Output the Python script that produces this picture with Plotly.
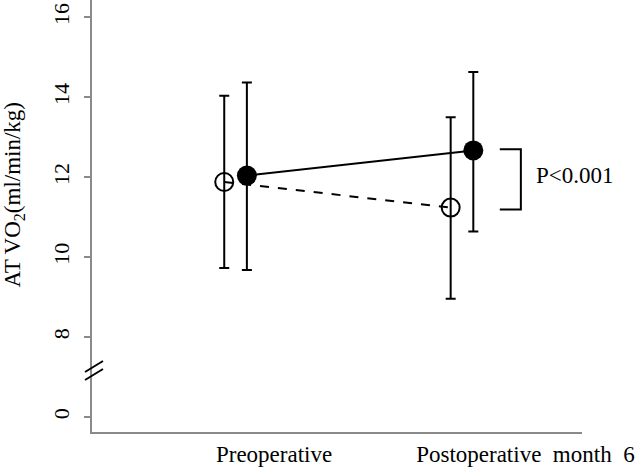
import plotly.graph_objects as go

# values
phases = ["Preoperative", "Postoperative\u00a0 month\u00a0 6"]
phase_x = [1, 2]
label_x = [1.17, 2.28]

filled_mean = [12.04, 12.67]
filled_upper = [14.37, 14.63]
filled_lower = [9.68, 10.64]

open_mean = [11.88, 11.24]
open_upper = [14.04, 13.50]
open_lower = [9.73, 8.96]

ytick_labels = [0, 8, 10, 12, 14, 16]
p_text = "P<0.001"

FONT = "Liberation Serif"
AXIS_GREY = "#8a8a8a"
DODGE = 0.05
BREAK_AT = 7.25


def to_display(v):
    # broken axis: 0 sits two units below 8
    return v if v >= 8 else v + 6


def err(mean, upper, lower):
    return dict(
        type="data",
        symmetric=False,
        array=[u - m for u, m in zip(upper, mean)],
        arrayminus=[m - l for m, l in zip(mean, lower)],
        color="black",
        thickness=2,
        width=5,
    )


fig = go.Figure()

fig.add_trace(
    go.Scatter(
        x=[p - DODGE for p in phase_x],
        y=open_mean,
        mode="lines+markers",
        line=dict(color="black", width=2, dash="dash"),
        marker=dict(symbol="circle-open", size=18, color="black", line=dict(width=2)),
        error_y=err(open_mean, open_upper, open_lower),
        showlegend=False,
    )
)

fig.add_trace(
    go.Scatter(
        x=[p + DODGE for p in phase_x],
        y=filled_mean,
        mode="lines+markers",
        line=dict(color="black", width=2),
        marker=dict(symbol="circle", size=20, color="black"),
        error_y=err(filled_mean, filled_upper, filled_lower),
        showlegend=False,
    )
)

# significance bracket next to the postoperative points
bx0 = phase_x[1] + 0.167
bx1 = phase_x[1] + 0.26
by_top = filled_mean[1] + 0.03
by_bot = open_mean[1] - 0.05
fig.add_shape(
    type="path",
    path=f"M {bx0} {by_top} L {bx1} {by_top} L {bx1} {by_bot} L {bx0} {by_bot}",
    line=dict(color="black", width=2),
)
fig.add_annotation(
    x=bx1 + 0.06,
    y=(by_top + by_bot) / 2 + 0.1,
    text=p_text,
    showarrow=False,
    xanchor="left",
    font=dict(family=FONT, size=23, color="black"),
)

# axis break marks
for dy in (0, -8):
    fig.add_shape(
        type="line",
        xref="paper",
        yref="y",
        xsizemode="pixel",
        ysizemode="pixel",
        xanchor=0,
        yanchor=BREAK_AT,
        x0=-7,
        x1=11,
        y0=dy - 5,
        y1=dy + 6,
        line=dict(color="black", width=2),
    )

fig.add_annotation(
    xref="paper",
    yref="paper",
    x=-0.16,
    y=0.549,
    xanchor="center",
    yanchor="middle",
    text="AT VO<sub>2</sub>(ml/min/kg)",
    textangle=-90,
    showarrow=False,
    font=dict(family=FONT, size=23, color="black"),
)

fig.update_layout(
    width=639,
    height=470,
    margin=dict(l=92, r=57, t=0, b=38),
    paper_bgcolor="white",
    plot_bgcolor="white",
    font=dict(family=FONT, color="black"),
    xaxis=dict(
        range=[0.366, 2.53],
        showgrid=False,
        zeroline=False,
        showline=True,
        linecolor=AXIS_GREY,
        linewidth=2,
        ticks="",
        tickvals=label_x,
        ticktext=phases,
        tickfont=dict(family=FONT, size=23, color="black"),
    ),
    yaxis=dict(
        range=[5.624, 16.434],
        showgrid=False,
        zeroline=False,
        showline=True,
        linecolor=AXIS_GREY,
        linewidth=2,
        ticks="outside",
        ticklen=6,
        tickwidth=1.5,
        tickcolor=AXIS_GREY,
        tickvals=[to_display(v) for v in ytick_labels],
        ticktext=[str(v) for v in ytick_labels],
        tickangle=-90,
        ticklabelstandoff=6,
        tickfont=dict(family=FONT, size=22, color="black"),
    ),
)

fig.write_html(
    "out.html",
    config={"displayModeBar": False},
    post_script="document.body.style.margin='0';",
)
